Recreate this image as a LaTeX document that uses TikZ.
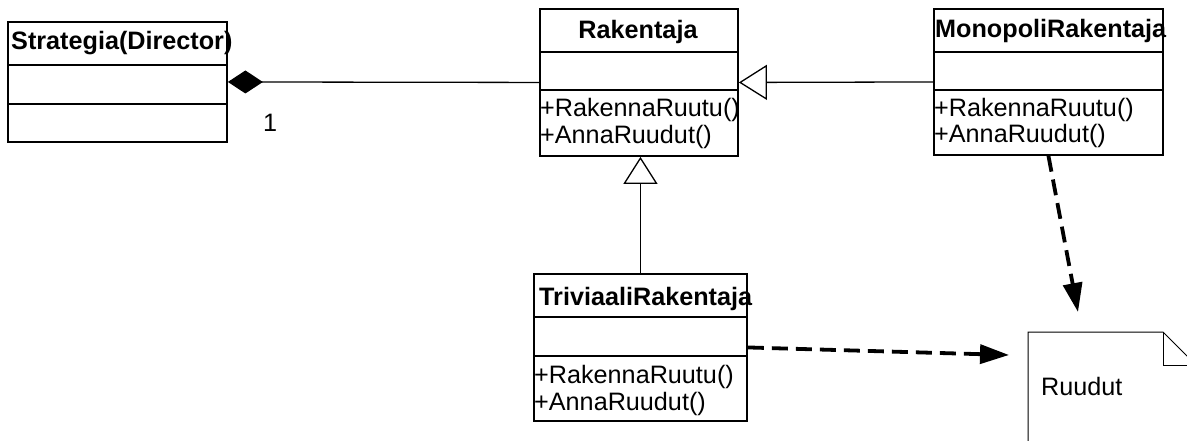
\documentclass[tikz,border=0pt]{standalone}
\usepackage{fontspec}
\setmainfont{Liberation Sans}
\usetikzlibrary{arrows.meta}
\begin{document}
\begin{tikzpicture}[x=1pt,y=-1pt,
  classbox/.style={draw, line width=1.9pt, rectangle, anchor=north west, inner sep=0pt},
  divider/.style={line width=1.9pt},
  classtitle/.style={font=\fontsize{25.2}{28}\selectfont\bfseries, inner sep=0pt},
  member/.style={font=\fontsize{25.2}{28}\selectfont, inner sep=0pt, anchor=base west},
  assoc/.style={line width=1.3pt},
  depend/.style={line width=3.8pt, dash pattern=on 16pt off 8pt, -{Triangle[length=29pt,width=19pt]}},
  notepaper/.style={line width=1pt},
]
\useasboundingbox (0,0) rectangle (1187,441);
\clip (0,0) rectangle (1187,441);

% class boxes
\node[classbox, minimum width=219, minimum height=120] (strat) at (7,21) {};
\node[classbox, minimum width=198, minimum height=147] (rak) at (539,8) {};
\node[classbox, minimum width=229, minimum height=146] (mono) at (933,8) {};
\node[classbox, minimum width=213, minimum height=147] (triv) at (533,273) {};

% compartments
\draw[divider] (7,65) -- (226,65);
\draw[divider] (7,104) -- (226,104);
\draw[divider] (539,52) -- (737,52);
\draw[divider] (539,90) -- (737,90);
\draw[divider] (933,52) -- (1162,52);
\draw[divider] (933,90) -- (1162,90);
\draw[divider] (533,317) -- (746,317);
\draw[divider] (533,356) -- (746,356);

% class names
\node[classtitle, anchor=base west] (stratname) at (11,50) {Strategia(Director)};
\node[classtitle, anchor=base] (rakname) at (638,39) {Rakentaja};
\node[classtitle, anchor=base west] (mononame) at (935,38) {MonopoliRakentaja};
\node[classtitle, anchor=base west] (trivname) at (539,305) {TriviaaliRakentaja};

% operations
\node[member] (rakop1) at (540,117) {+RakennaRuutu()};
\node[member] (rakop2) at (540,144) {+AnnaRuudut()};
\node[member] (monoop1) at (934,117) {+RakennaRuutu()};
\node[member] (monoop2) at (934,143) {+AnnaRuudut()};
\node[member] (trivop1) at (534,383) {+RakennaRuutu()};
\node[member] (trivop2) at (534,410) {+AnnaRuudut()};

% note
\draw[notepaper] (1028,480) -- (1028,332) -- (1163,332) -- (1196,365) -- (1196,480);
\draw[notepaper] (1163,332) -- (1163,365) -- (1196,365);
\node[member] (ruudut) at (1041,395) {Ruudut};
\coordinate (ruudutW) at (1009,355);
\coordinate (ruudutN) at (1078,312);

% composition
\draw[assoc, {Diamond[length=35pt,width=23pt,fill=black]}-] (strat.east) -- (rak.west);
\node[member] (mult) at (263,132) {1};

% generalizations
\draw[assoc, -{Triangle[open,length=28pt,width=35pt,fill=white]}] (mono.west) -- (rak.east);
\draw[assoc, -{Triangle[open,length=27pt,width=34pt,fill=white]}] (triv.north) -- (triv.north |- rak.south);

% dependencies
\draw[depend] (triv.east) -- (ruudutW);
\draw[depend] (mono.south) -- (ruudutN);
\end{tikzpicture}
\end{document}
